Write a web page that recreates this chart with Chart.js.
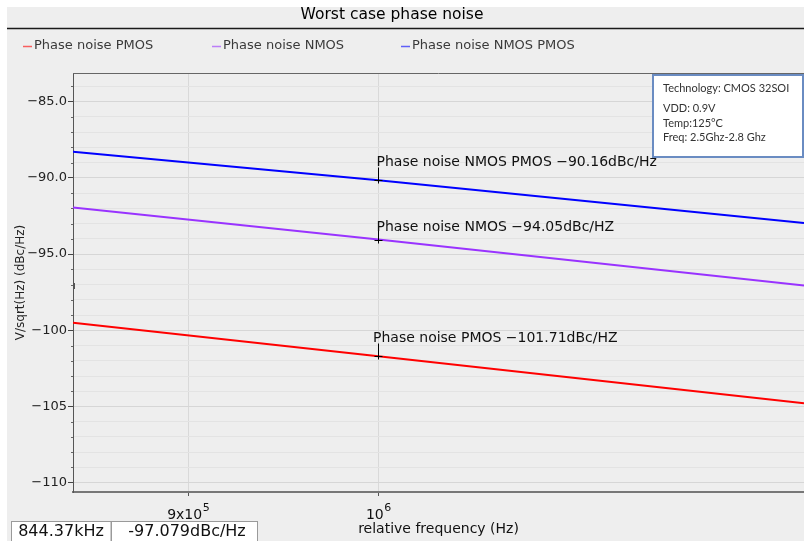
<!DOCTYPE html>
<html>
<head>
<meta charset="utf-8">
<script src="https://cdn.jsdelivr.net/npm/chart.js@4/dist/chart.umd.min.js"></script>
<style>
  html, body { margin: 0; padding: 0; background: #ffffff; }
  canvas { display: block; }
</style>
</head>
<body>
<canvas id="c" width="804" height="541"></canvas>
<script>
// Offset frequencies (Hz) at which each curve is sampled
const frequencies = [844370, 1000000, 1266000];
// Phase noise of each device flavour (dBc/Hz)
const pmosNoise = [-99.51, -101.71, -104.78];
const nmosNoise = [-91.95, -94.05, -97.06];
const nmosPmosNoise = [-88.29, -90.16, -92.96];
const seriesNames = ['Phase noise PMOS', 'Phase noise NMOS', 'Phase noise NMOS PMOS'];
const seriesUnits = ['dBc/HZ', 'dBc/HZ', 'dBc/Hz'];

// Annotated point on every curve
const markerFrequency = 1000000;

// Axis ticks
const xTickValues = [900000, 1000000];
const xTickBases = ['9x10', '10'];
const xTickExponents = ['5', '6'];
const yMin = -110.61;
const yMax = -83.12;

// Cursor readout at the left edge
const cursorFrequency = 844370;
const cursorValue = -97.079;
const cursorFreqText = '844.37kHz';
const cursorValueText = '-97.079dBc/Hz';

const chartTitle = 'Worst case phase noise';
const infoLines = ['Technology: CMOS 32SOI', 'VDD: 0.9V', 'Temp:125°C', 'Freq: 2.5Ghz-2.8 Ghz'];

const seriesColors = ['#ff0000', '#9933ff', '#0000ff'];
const seriesValues = [pmosNoise, nmosNoise, nmosPmosNoise];

const FONT = '"DejaVu Sans", sans-serif';
const minus = s => s.replace('-', '\u2212');

const datasets = seriesValues.map((vals, i) => ({
  label: seriesNames[i],
  data: frequencies.map((f, k) => ({ x: f, y: vals[k] })),
  borderColor: seriesColors[i],
  backgroundColor: seriesColors[i],
  borderWidth: 2,
  pointRadius: 0,
  tension: 0,
  fill: false
}));

// Frame, title, legend, annotations, info box and cursor readout
const decorations = {
  id: 'decorations',
  beforeDraw(chart) {
    const ctx = chart.ctx;
    ctx.save();
    ctx.fillStyle = '#ffffff';
    ctx.fillRect(0, 0, chart.width, chart.height);
    ctx.fillStyle = '#eeeeee';
    ctx.fillRect(7, 7, chart.width - 7, chart.height - 7);
    ctx.restore();
  },
  afterDraw(chart) {
    const ctx = chart.ctx;
    const xs = chart.scales.x, ys = chart.scales.y;
    const area = chart.chartArea;
    ctx.save();

    // title and rule underneath
    ctx.fillStyle = '#000000';
    ctx.font = '15.5px ' + FONT;
    ctx.textAlign = 'center';
    ctx.textBaseline = 'middle';
    ctx.fillText(chartTitle, 392, 15);
    ctx.strokeStyle = '#1a1a1a';
    ctx.lineWidth = 1.5;
    ctx.beginPath();
    ctx.moveTo(7, 28.5);
    ctx.lineTo(chart.width, 28.5);
    ctx.stroke();

    // legend
    const legendX = [23, 212, 401];
    ctx.font = '13px ' + FONT;
    ctx.textAlign = 'left';
    chart.data.datasets.forEach((ds, i) => {
      const x = legendX[i];
      ctx.strokeStyle = ds.borderColor;
      ctx.globalAlpha = 0.6;
      ctx.lineWidth = 1.5;
      ctx.beginPath();
      ctx.moveTo(x, 46.5);
      ctx.lineTo(x + 9, 46.5);
      ctx.stroke();
      ctx.globalAlpha = 1;
      ctx.fillStyle = '#3a3a3a';
      ctx.fillText(ds.label, x + 11, 46);
    });

    // plot frame top
    ctx.strokeStyle = '#666666';
    ctx.lineWidth = 1;
    ctx.beginPath();
    ctx.moveTo(area.left, area.top + 0.5);
    ctx.lineTo(area.right, area.top + 0.5);
    ctx.stroke();

    // minor y tick marks
    ctx.strokeStyle = '#666666';
    ys.ticks.forEach(t => {
      if (t.value % 5 !== 0) {
        const y = Math.round(ys.getPixelForValue(t.value)) + 0.5;
        ctx.beginPath();
        ctx.moveTo(area.left - 2, y);
        ctx.lineTo(area.left, y);
        ctx.stroke();
      }
    });

    // x tick labels with exponents
    ctx.fillStyle = '#111111';
    xTickValues.forEach((v, i) => {
      const px = xs.getPixelForValue(v);
      ctx.font = '14px ' + FONT;
      const wb = ctx.measureText(xTickBases[i]).width;
      ctx.font = '11px ' + FONT;
      const we = ctx.measureText(xTickExponents[i]).width;
      const x0 = px - (wb + we) / 2;
      ctx.textAlign = 'left';
      ctx.textBaseline = 'alphabetic';
      ctx.font = '14px ' + FONT;
      ctx.fillText(xTickBases[i], x0, 519);
      ctx.font = '11px ' + FONT;
      ctx.fillText(xTickExponents[i], x0 + wb + 0.5, 511);
    });

    // annotated points at 1 MHz
    const labelDx = [-5.5, -2, -2];
    const labelDy = [-18, -13, -18];
    ctx.save();
    ctx.beginPath();
    ctx.rect(area.left, area.top, area.right - area.left, area.bottom - area.top);
    ctx.clip();
    seriesValues.forEach((vals, i) => {
      const k = frequencies.indexOf(markerFrequency);
      const value = vals[k];
      const px = Math.round(xs.getPixelForValue(markerFrequency)) + 0.5;
      const py = Math.round(ys.getPixelForValue(value)) + 0.5;
      ctx.strokeStyle = '#000000';
      ctx.lineWidth = 1;
      ctx.beginPath();
      ctx.moveTo(px, py - 13);
      ctx.lineTo(px, py + 3);
      ctx.moveTo(px - 4, py);
      ctx.lineTo(px + 4, py);
      ctx.stroke();
      ctx.fillStyle = '#111111';
      ctx.font = '14px ' + FONT;
      ctx.textAlign = 'left';
      ctx.textBaseline = 'middle';
      const text = seriesNames[i] + ' ' + minus(value.toFixed(2)) + seriesUnits[i];
      ctx.fillText(text, px + labelDx[i], py + labelDy[i]);
    });

    // cursor marker
    const cx = xs.getPixelForValue(cursorFrequency);
    const cy = ys.getPixelForValue(cursorValue);
    ctx.strokeStyle = '#555555';
    ctx.lineWidth = 1;
    ctx.strokeRect(Math.round(cx) - 1.5, Math.round(cy) - 2.5, 3, 5);
    ctx.restore();

    // info box
    ctx.fillStyle = '#ffffff';
    ctx.fillRect(653, 75, 150, 82);
    ctx.strokeStyle = '#6a8cc2';
    ctx.lineWidth = 2;
    ctx.strokeRect(653, 75, 150, 82);
    ctx.fillStyle = '#333333';
    ctx.font = '11px Lato, sans-serif';
    ctx.textAlign = 'left';
    ctx.textBaseline = 'middle';
    const infoY = [88, 108, 123, 137];
    infoLines.forEach((s, i) => ctx.fillText(s, 663, infoY[i]));

    // cursor readout cells
    ctx.fillStyle = '#ffffff';
    ctx.fillRect(11.5, 521.5, 99.5, 30);
    ctx.fillRect(111, 521.5, 146, 30);
    ctx.strokeStyle = '#9a9a9a';
    ctx.lineWidth = 1;
    ctx.strokeRect(11.5, 521.5, 99.5, 30);
    ctx.strokeRect(111.5, 521.5, 146, 30);
    ctx.fillStyle = '#111111';
    ctx.font = '16px ' + FONT;
    ctx.textAlign = 'center';
    ctx.textBaseline = 'middle';
    ctx.fillText(cursorFreqText, 61, 532);
    ctx.fillText(cursorValueText, 187, 532);

    ctx.restore();
  }
};

new Chart(document.getElementById('c'), {
  type: 'line',
  data: { datasets },
  options: {
    responsive: false,
    animation: false,
    devicePixelRatio: 1,
    layout: { padding: { top: 73, right: 0, left: 0, bottom: 0 } },
    plugins: {
      legend: { display: false },
      title: { display: false },
      tooltip: { enabled: false }
    },
    scales: {
      x: {
        type: 'logarithmic',
        min: frequencies[0],
        max: frequencies[frequencies.length - 1],
        afterBuildTicks: s => { s.ticks = xTickValues.map(v => ({ value: v })); },
        afterFit: s => { s.height = 49; },
        ticks: { display: false },
        grid: { color: '#d9d9d9', tickColor: '#555555', tickLength: 4, lineWidth: 1 },
        border: { display: true, color: '#777777', width: 2 },
        title: {
          display: true,
          text: 'relative frequency (Hz)',
          color: '#111111',
          font: { family: FONT, size: 14 },
          padding: { top: 0, bottom: 3 }
        }
      },
      y: {
        type: 'linear',
        min: yMin,
        max: yMax,
        afterFit: s => { s.width = 73; },
        ticks: {
          stepSize: 1,
          includeBounds: false,
          autoSkip: false,
          padding: 1,
          color: '#222222',
          font: { family: FONT, size: 13 },
          callback: v => {
            if (v % 5 !== 0) return '';
            return minus(Math.abs(v) >= 100 ? v.toFixed(0) : v.toFixed(1));
          }
        },
        grid: {
          color: c => (c.tick && c.tick.value % 5 === 0) ? '#d6d6d6' : '#e3e3e3',
          tickColor: c => (c.tick && c.tick.value % 5 === 0) ? '#444444' : 'rgba(0,0,0,0)',
          tickLength: 5
        },
        border: { display: true, color: '#555555', width: 1 },
        title: {
          display: true,
          text: 'V/sqrt(Hz) (dBc/Hz)',
          color: '#222222',
          font: { family: FONT, size: 12 },
          padding: { top: 14, bottom: 0 }
        }
      }
    }
  },
  plugins: [decorations]
});
</script>
</body>
</html>
